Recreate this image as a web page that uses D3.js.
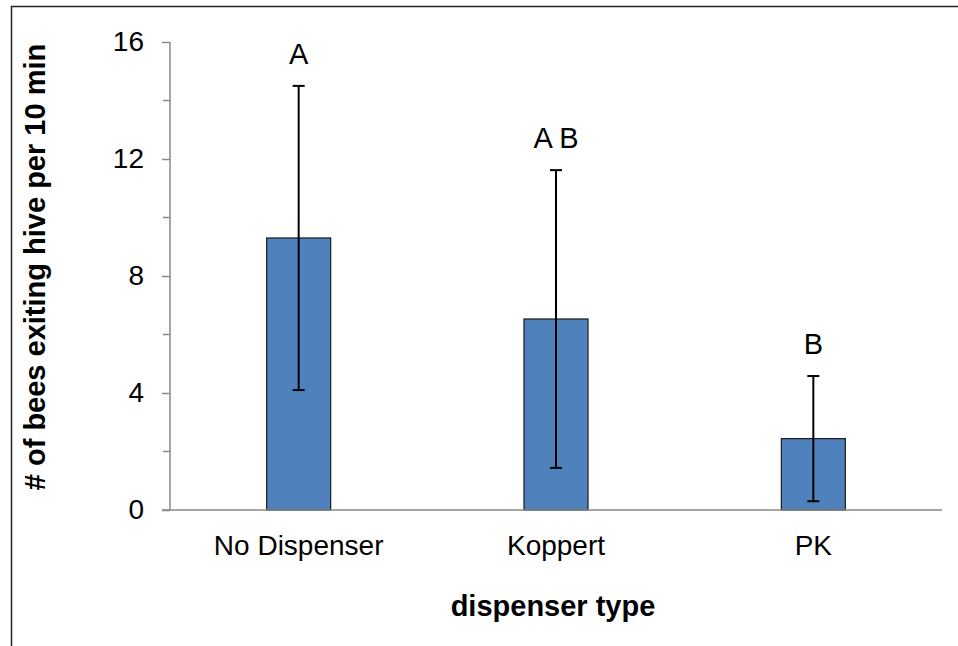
<!DOCTYPE html>
<html>
<head>
<meta charset="utf-8">
<script src="https://cdn.jsdelivr.net/npm/d3@7"></script>
<style>
  body { margin: 0; background: #fff; }
  svg text { font-family: "Liberation Sans", Arial, sans-serif; fill: #000; }
</style>
</head>
<body>
<div id="chart"></div>
<script>
window.addEventListener("DOMContentLoaded", () => {
    var width = 958,
        height = 646;

    var categories = ["No Dispenser", "Koppert", "PK"];
    var means = [9.3, 6.53, 2.44];
    var errors = [5.2, 5.09, 2.14];
    var letters = ["A", "A B", "B"];
    var yTicks = [0, 4, 8, 12, 16];
    var yMinorTicks = [2, 6, 10, 14];

    var margin = {left: 170, right: 16, top: 42, bottom: 136};

const svg = d3.select("#chart")
              .append("svg")
              .attr("width", width)
              .attr("height", height);

/*outer frame - only the left and top edges show*/
svg.append("path")
    .attr("d", "M11.5,646 V6.5 H958")
    .attr("fill", "none")
    .attr("stroke", "#222")
    .attr("stroke-width", 1.5);

const xScale = d3.scaleBand()
    .domain(categories)
    .range([margin.left, width - margin.right]);

const yScale = d3.scaleLinear()
    .domain([0, 16])
    .range([height - margin.bottom, margin.top]);

let barWidth = 64;

svg.selectAll("rect.bar")
    .data(means)
    .enter()
    .append("rect")
    .attr("class", "bar")
    .attr("x", (d, i) => xScale(categories[i]) + xScale.bandwidth()/2 - barWidth/2)
    .attr("y", d => yScale(d))
    .attr("width", barWidth)
    .attr("height", d => yScale(0) - yScale(d))
    .attr("fill", "#4f81bd")
    .attr("stroke", "#1a1a1a")
    .attr("stroke-width", 1.2);

/*error bars*/
var cx = (i) => xScale(categories[i]) + xScale.bandwidth()/2;
var eb = svg.append("g").attr("stroke", "#000").attr("stroke-width", 2);
means.forEach(function(m, i){
    var top = yScale(m + errors[i]), bot = yScale(m - errors[i]);
    eb.append("line").attr("x1", cx(i)).attr("x2", cx(i)).attr("y1", top).attr("y2", bot);
    eb.append("line").attr("x1", cx(i)-6).attr("x2", cx(i)+6).attr("y1", top).attr("y2", top);
    eb.append("line").attr("x1", cx(i)-6).attr("x2", cx(i)+6).attr("y1", bot).attr("y2", bot);
});

/*significance letters*/
svg.selectAll("text.letter")
    .data(letters)
    .enter()
    .append("text")
    .attr("class", "letter")
    .attr("x", (d, i) => cx(i))
    .attr("y", (d, i) => yScale(means[i] + errors[i]) - 22)
    .attr("text-anchor", "middle")
    .attr("font-size", "29px")
    .text(d => d);

/*axes*/
var yAxis = d3.axisLeft(yScale).tickValues(yTicks).tickSize(8).tickPadding(18);
var gy = svg.append("g")
    .attr("transform", "translate(" + margin.left + ",0)")
    .call(yAxis);
gy.attr("font-size", null).attr("font-family", null);
gy.selectAll("text").attr("font-size", "28px");

svg.append("g")
    .selectAll("line")
    .data(yMinorTicks)
    .enter()
    .append("line")
    .attr("x1", margin.left - 7)
    .attr("x2", margin.left)
    .attr("y1", d => yScale(d))
    .attr("y2", d => yScale(d))
    .attr("stroke", "#888")
    .attr("stroke-width", 1.5);

var xAxis = d3.axisBottom(xScale).tickSize(0).tickPadding(25);
var gx = svg.append("g")
    .attr("transform", "translate(0," + yScale(0) + ")")
    .call(xAxis);
gx.attr("font-size", null).attr("font-family", null);
gx.selectAll("text").attr("font-size", "28px");

svg.selectAll(".domain, .tick line")
    .attr("stroke", "#888")
    .attr("stroke-width", 1.5);
gy.select(".domain").attr("d", "M" + 0 + "," + yScale(16) + "V" + yScale(0));
gx.select(".domain").attr("d", "M" + (margin.left - 8) + ",0H" + (width - margin.right));

/*axis titles*/
svg.append("text")
    .attr("x", 553)
    .attr("y", 616)
    .attr("text-anchor", "middle")
    .attr("font-size", "29px")
    .attr("font-weight", "bold")
    .text("dispenser type");

svg.append("text")
    .attr("transform", "translate(45," + 267 + ") rotate(-90)")
    .attr("text-anchor", "middle")
    .attr("font-size", "29px")
    .attr("font-weight", "bold")
    .text("# of bees exiting hive per 10 min");
});
</script>
</body>
</html>
